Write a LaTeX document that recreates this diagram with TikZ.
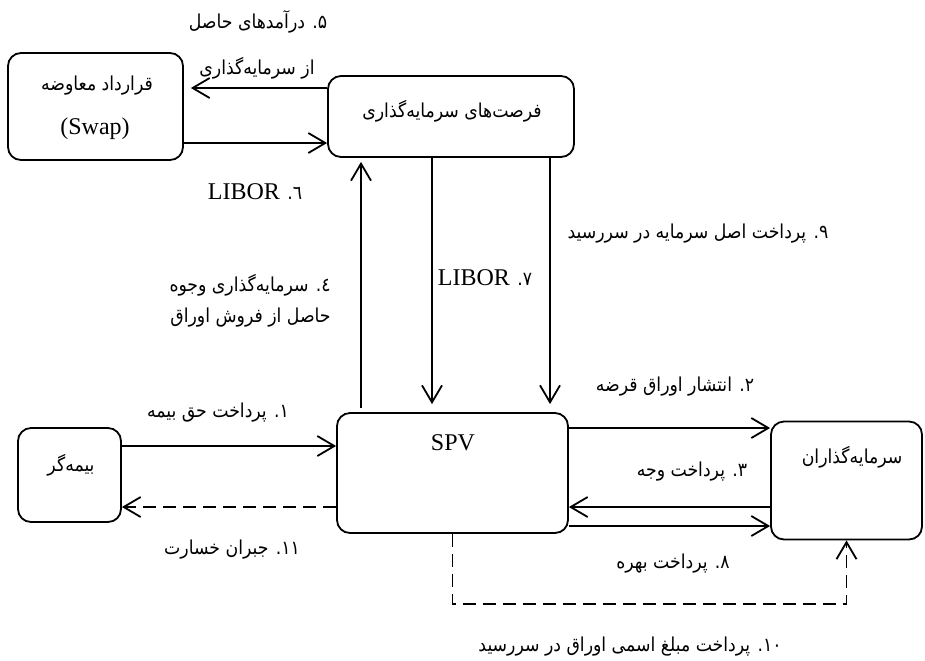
\documentclass[tikz,border=0pt]{standalone}
\usepackage{fontspec}
\setmainfont{Liberation Serif}
\newfontfamily\farsi[Script=Arabic]{DejaVu Sans Condensed}
\TeXXeTstate=1
\usetikzlibrary{arrows.meta,calc}

\newcommand{\fa}[1]{{\farsi\beginR #1\endR}}

\tikzset{
  box/.style={draw, rounded corners=6.5pt, line width=0.9pt, inner sep=0pt},
  txt/.style={inner sep=0pt, font=\fontsize{12}{14}\selectfont},
  fatxt/.style={inner sep=0pt, font=\fontsize{9.6}{12}\selectfont},
  arr/.style={line width=0.9pt, -{Straight Barb[length=8.5pt,width=10pt,line width=0.9pt]}},
  darr/.style={arr, dash pattern=on 6.5pt off 3.5pt}
}

\begin{document}
\begin{tikzpicture}[x=0.5pt,y=-0.5pt]
  \useasboundingbox (0,0) rectangle (925,660);
  %%%%% BOXES %%%%%
  \node[box, minimum width=87.5pt, minimum height=53.5pt] (swap) at (95.5,106.5) {};
  \node[box, minimum width=123pt, minimum height=40.5pt] (opp) at (451,116.5) {};
  \node[box, minimum width=115.5pt, minimum height=60pt] (spv) at (452.5,473) {};
  \node[box, minimum width=51.5pt, minimum height=47pt] (ins) at (69.5,475) {};
  \node[box, minimum width=75.5pt, minimum height=59pt] (inv) at (846.5,480.5) {};

  \node[fatxt] (swapfa) at (97,86) {\fa{قرارداد معاوضه}};
  \node[txt] (swapen) at (95,129) {(Swap)};
  \node[fatxt] (opptxt) at (452,111) {\fa{فرصت‌های سرمایه‌گذاری}};
  \node[txt] (spvtxt) at (453,443) {SPV};
  \node[fatxt] (instxt) at (71,465) {\fa{بیمه‌گر}};
  \node[fatxt] (invtxt) at (852,457) {\fa{سرمایه‌گذاران}};

  %%%%% FLOWS %%%%%
  \draw[arr] (ins.east |- 0,446) -- (spv.west |- 0,446);
  \draw[darr] (spv.west |- 0,507) -- (ins.east |- 0,507);
  \draw[arr] (spv.east |- 0,428) -- (inv.west |- 0,428);
  \draw[arr] (inv.west |- 0,507) -- (spv.east |- 0,507);
  \draw[arr] (spv.east |- 0,526) -- (inv.west |- 0,526);
  \draw[darr] (spv.south) -- ++(0,70) -| (inv.south);
  \draw[arr, shorten <=2pt, shorten >=2pt] (spv.north -| 361,0) -- (opp.south -| 361,0);
  \draw[arr, shorten >=4pt] (opp.south -| 432,0) -- (spv.north -| 432,0);
  \draw[arr, shorten >=4pt] (opp.south -| 550,0) -- (spv.north -| 550,0);
  \draw[arr, shorten >=3.5pt] (opp.west |- 0,88) -- (swap.east |- 0,88);
  \draw[arr] (swap.east |- 0,143) -- (opp.west |- 0,143);

  %%%%% LABELS %%%%%
  \node[fatxt] (l1) at (218,413) {\fa{۱. پرداخت حق بیمه}};
  \node[fatxt] (l2) at (675,387) {\fa{۲. انتشار اوراق قرضه}};
  \node[fatxt] (l3) at (692,472) {\fa{۳. پرداخت وجه}};
  \node[fatxt, anchor=east] (l4a) at (331,285) {\fa{٤. سرمایه‌گذاری وجوه}};
  \node[fatxt, anchor=east] (l4b) at (331,318) {\fa{حاصل از فروش اوراق}};
  \node[fatxt] (l5a) at (258,22) {\fa{۵. درآمدهای حاصل}};
  \node[fatxt] (l5b) at (257,68) {\fa{از سرمایه‌گذاری}};
  \node[fatxt] (l6) at (255,192) {\fa{٦. \beginL{\rmfamily\fontsize{12}{14}\selectfont LIBOR}\endL}};
  \node[fatxt] (l7) at (485,278) {\fa{۷. \beginL{\rmfamily\fontsize{12}{14}\selectfont LIBOR}\endL}};
  \node[fatxt] (l8) at (673,564) {\fa{۸. پرداخت بهره}};
  \node[fatxt] (l9) at (698,234) {\fa{۹. پرداخت اصل سرمایه در سررسید}};
  \node[fatxt] (l10) at (630,647) {\fa{۱۰. پرداخت مبلغ اسمی اوراق در سررسید}};
  \node[fatxt] (l11) at (232,550) {\fa{۱۱. جبران خسارت}};
\end{tikzpicture}
\end{document}
